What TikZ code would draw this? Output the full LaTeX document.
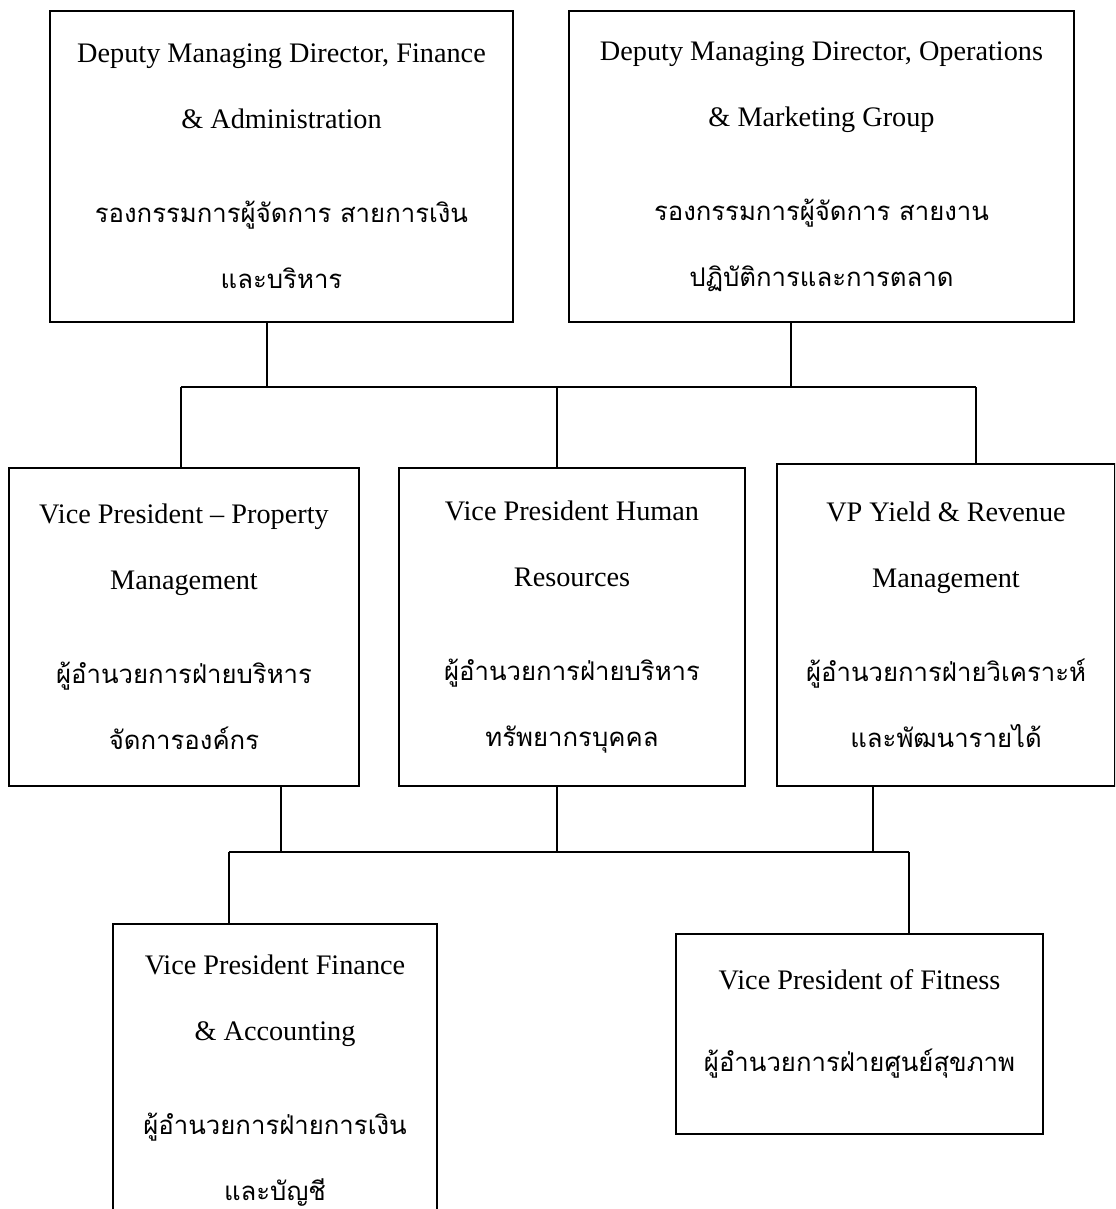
\documentclass[tikz,border=0pt]{standalone}
\usepackage{fontspec}
\setmainfont{Liberation Serif}
\newfontfamily\thaifont[Script=Thai, Scale=0.91]{Loma}
\newcommand{\thaitext}[1]{{\thaifont #1}}
\newlength\pxunit
\setlength\pxunit{0.75pt}

\begin{document}
\begin{tikzpicture}[
  x=\pxunit, y=-\pxunit,
  post/.style={
    draw=black, fill=white, line width=0.9pt,
    align=center, inner sep=0pt,
    font=\fontsize{21.2}{49.5}\selectfont
  },
  link/.style={draw=black, line width=1.9pt}
]
\useasboundingbox (0,0) rectangle (1115,1209);
\clip (0,0) rectangle (1115,1209);

% ---- Rang 1 ----
\node[post, minimum width=463\pxunit, minimum height=311\pxunit] (dmdfin) at (281.5,166.5) {
  Deputy Managing Director, Finance\\
  \& Administration\\[21pt]
  \thaitext{รองกรรมการผู้จัดการ สายการเงิน}\\
  \thaitext{และบริหาร}
};

\node[post, minimum width=505\pxunit, minimum height=311\pxunit] (dmdops) at (821.5,166.5) {
  Deputy Managing Director, Operations\\
  \& Marketing Group\\[21pt]
  \thaitext{รองกรรมการผู้จัดการ สายงาน}\\
  \thaitext{ปฏิบัติการและการตลาด}
};

% ---- Rang 2 ----
\node[post, minimum width=350\pxunit, minimum height=318\pxunit] (vpprop) at (184,627) {
  Vice President -- Property\\
  Management\\[21pt]
  \thaitext{ผู้อำนวยการฝ่ายบริหาร}\\
  \thaitext{จัดการองค์กร}
};

\node[post, minimum width=346\pxunit, minimum height=318\pxunit] (vphr) at (572,627) {
  Vice President Human\\
  Resources\\[21pt]
  \thaitext{ผู้อำนวยการฝ่ายบริหาร}\\
  \thaitext{ทรัพยากรบุคคล}
};

\node[post, minimum width=338\pxunit, minimum height=322\pxunit] (vpyield) at (946,625) {
  VP Yield \& Revenue\\
  Management\\[21pt]
  \thaitext{ผู้อำนวยการฝ่ายวิเคราะห์}\\
  \thaitext{และพัฒนารายได้}
};

% ---- Rang 3 ----
\node[post, minimum width=324\pxunit, minimum height=314\pxunit] (vpfin) at (275,1081) {
  Vice President Finance\\
  \& Accounting\\[21pt]
  \thaitext{ผู้อำนวยการฝ่ายการเงิน}\\
  \thaitext{และบัญชี}
};

\node[post, minimum width=367\pxunit, minimum height=200\pxunit] (vpfit) at (859.5,1034) {
  Vice President of Fitness\\[12pt]
  \thaitext{ผู้อำนวยการฝ่ายศูนย์สุขภาพ}\\[-30pt]
  \mbox{}
};

% Barres de liaison
\coordinate (busA1) at (267,387);
\coordinate (busA2) at (791,387);
\coordinate (busAL) at (181,387);
\coordinate (busAC) at (557,387);
\coordinate (busAR) at (976,387);

\coordinate (busB1) at (281,852);
\coordinate (busB2) at (557,852);
\coordinate (busB3) at (873,852);
\coordinate (busBL) at (229,852);
\coordinate (busBR) at (909,852);

\draw[link] (dmdfin.south -| busA1) -- (busA1);
\draw[link] (dmdops.south -| busA2) -- (busA2);
\draw[link] (busAL) -- (busAR);
\draw[link] (busAL) -- (vpprop.north -| busAL);
\draw[link] (busAC) -- (vphr.north -| busAC);
\draw[link] (busAR) -- (vpyield.north -| busAR);

\draw[link] (vpprop.south -| busB1) -- (busB1);
\draw[link] (vphr.south -| busB2) -- (busB2);
\draw[link] (vpyield.south -| busB3) -- (busB3);
\draw[link] (busBL) -- (busBR);
\draw[link] (busBL) -- (vpfin.north -| busBL);
\draw[link] (busBR) -- (vpfit.north -| busBR);

\end{tikzpicture}
\end{document}
